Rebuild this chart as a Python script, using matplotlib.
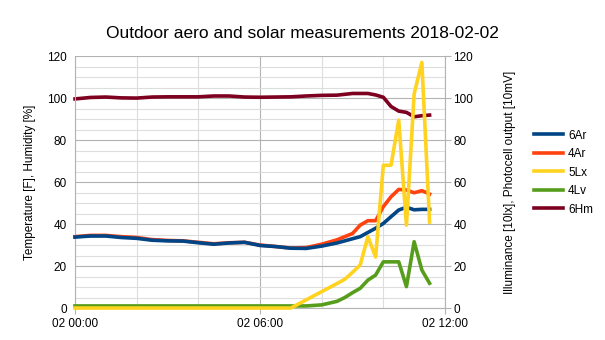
import matplotlib.pyplot as plt
from matplotlib.ticker import MultipleLocator

plt.rcParams['font.family'] = ['Liberation Sans', 'DejaVu Sans']

# hours since 02 00:00
hours = [0, 0.5, 1, 1.5, 2, 2.5, 3, 3.5, 4, 4.5, 5, 5.5, 6, 6.5, 7, 7.5, 8, 8.5,
         8.75, 9, 9.25, 9.5, 9.75, 10, 10.25, 10.5, 10.75, 11, 11.25, 11.5]

ar6 = [33.8, 34.3, 34.3, 33.6, 33.2, 32.3, 32.0, 31.9, 31.1, 30.4, 31.0, 31.3, 29.8, 29.3,
       28.5, 28.4, 29.5, 31.0, 32.0, 33.0, 34.0, 36.0, 38.0, 40.3, 43.5, 46.7, 48.0, 46.8, 47.0, 47.0]
ar4 = [34.0, 34.6, 34.6, 34.0, 33.6, 32.6, 32.2, 32.0, 31.3, 30.6, 31.1, 31.3, 30.0, 29.3,
       28.6, 28.8, 30.4, 32.5, 34.0, 35.5, 39.5, 41.6, 41.6, 48.3, 53.0, 56.5, 56.2, 54.9, 55.9, 54.3]
lx5 = [0, 0, 0, 0, 0, 0, 0, 0, 0, 0, 0, 0, 0, 0,
       0, 3.9, 7.8, 11.7, 13.7, 17.0, 20.5, 34.0, 24.3, 68.0, 68.0, 89.5, 39.5, 102.0, 117.0, 41.0]
lv4 = [1, 1, 1, 1, 1, 1, 1, 1, 1, 1, 1, 1, 1, 1,
       1, 1, 1.5, 3.2, 5.0, 7.3, 9.4, 13.3, 15.7, 22.0, 22.0, 22.0, 10.2, 31.6, 18.1, 11.8]
hm6 = [99.6, 100.3, 100.5, 100.1, 100.0, 100.5, 100.6, 100.6, 100.6, 101.0, 101.0, 100.5, 100.4, 100.5,
       100.6, 101.0, 101.3, 101.4, 101.8, 102.2, 102.2, 102.2, 101.5, 100.4, 96.0, 93.8, 93.2, 91.1, 91.6, 91.9]

xticks = [0, 6, 12]
xlabels = ['02 00:00', '02 06:00', '02 12:00']

fig = plt.figure(figsize=(6.05, 3.4), dpi=100)
ax = fig.add_axes([0.124, 0.094, 0.6115, 0.741])
ax2 = ax.twinx()

ax.set_xlim(0, 12)
ax.set_ylim(0, 120)
ax2.set_ylim(0, 120)
ax.xaxis.set_major_locator(plt.FixedLocator(xticks))
ax.set_xticklabels(xlabels)
ax.xaxis.set_minor_locator(MultipleLocator(2))
ax.yaxis.set_major_locator(MultipleLocator(20))
ax.yaxis.set_minor_locator(MultipleLocator(5))
ax2.yaxis.set_major_locator(MultipleLocator(20))

ax.grid(True, which='major', color='#b3b3b3', linewidth=0.8)
ax.grid(True, which='minor', color='#dddddd', linewidth=0.8)
ax.set_axisbelow(True)

for a in (ax, ax2):
    for s in a.spines.values():
        s.set_visible(False)
ax.spines['left'].set_visible(True)
ax.spines['left'].set_color('#b3b3b3')
ax.spines['bottom'].set_visible(True)
ax.spines['bottom'].set_color('#b3b3b3')
ax2.spines['right'].set_visible(True)
ax2.spines['right'].set_color('#b3b3b3')

ax.tick_params(axis='y', which='both', length=0, labelsize=8.5, pad=6)
ax.tick_params(axis='x', which='major', length=4, color='#b3b3b3', labelsize=8.5)
ax.tick_params(axis='x', which='minor', length=0)
ax2.tick_params(axis='y', length=4, color='#b3b3b3', labelsize=8.5, pad=2)

lw = 2.6
l1, = ax.plot(hours, ar6, color='#004586', lw=lw, label='6Ar', clip_on=False)
l2, = ax.plot(hours, ar4, color='#ff420e', lw=lw, label='4Ar', clip_on=False)
l3, = ax2.plot(hours, lx5, color='#ffd320', lw=lw, label='5Lx', clip_on=False)
l4, = ax2.plot(hours, lv4, color='#579d1c', lw=lw, label='4Lv', clip_on=False)
l5, = ax.plot(hours, hm6, color='#7e0021', lw=lw, label='6Hm', clip_on=False)
# draw order as in reference: blue over orange, yellow over green
l1.set_zorder(3)
l2.set_zorder(2)
l3.set_zorder(2.5)
l4.set_zorder(2)

ax.set_ylabel('Temperature [F], Humidity [%]', fontsize=8.5, labelpad=8)
ax2.set_ylabel('Illuminance [10lx], Photocell output [10mV]', fontsize=8.5, labelpad=22)
fig.suptitle('Outdoor aero and solar measurements 2018-02-02', fontsize=12.5, x=0.5, y=0.925)

fig.legend(handles=[l1, l2, l3, l4, l5], loc='upper left', bbox_to_anchor=(0.865, 0.65),
           frameon=False, fontsize=8.5, handlelength=2.5, handletextpad=0.4, labelspacing=0.55)

fig.savefig('out.png', dpi=100)
